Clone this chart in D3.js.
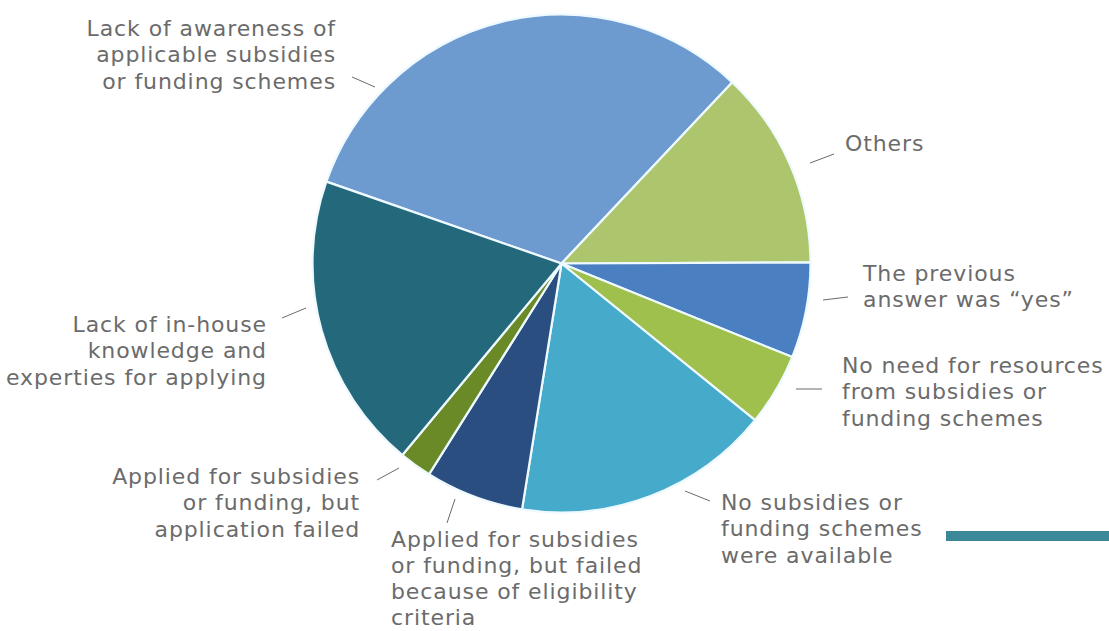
<!DOCTYPE html>
<html>
<head>
<meta charset="utf-8">
<script src="https://cdn.jsdelivr.net/npm/d3@7"></script>
<style>
  html, body { margin: 0; padding: 0; background: #ffffff; }
  svg { display: block; }
  .lbl { font-family: "DejaVu Sans", "Open Sans", sans-serif; font-size: 22px; letter-spacing: 0.9px; fill: #6b6b6b; }
</style>
</head>
<body>
<svg id="chart" width="1109" height="631"></svg>
<script>
// Reasons for not using subsidies or funding schemes (share of respondents, %)
const categories = [
  "Lack of awareness of applicable subsidies or funding schemes",
  "Others",
  "The previous answer was \u201cyes\u201d",
  "No need for resources from subsidies or funding schemes",
  "No subsidies or funding schemes were available",
  "Applied for subsidies or funding, but failed because of eligibility criteria",
  "Applied for subsidies or funding, but application failed",
  "Lack of in-house knowledge and experties for applying"
];
const values = [31.7, 12.9, 6.2, 4.7, 16.7, 6.4, 2.1, 19.3];
const labelLines = [
  ["Lack of awareness of", "applicable subsidies", "or funding schemes"],
  ["Others"],
  ["The previous", "answer was \u201cyes\u201d"],
  ["No need for resources", "from subsidies or", "funding schemes"],
  ["No subsidies or", "funding schemes", "were available"],
  ["Applied for subsidies", "or funding, but failed", "because of eligibility", "criteria"],
  ["Applied for subsidies", "or funding, but", "application failed"],
  ["Lack of in-house", "knowledge and", "experties for applying"]
];
const colors = ["#6e9bcf", "#adc66e", "#4a7fc2", "#9fc04c", "#46aaca", "#2a4e7f", "#6a8a28", "#24687b"];

// Label placement: anchor point, text alignment, first baseline, line step, leader line endpoints
const labelLayout = [
  { x: 336, y: 36,  step: 26.3, anchor: "end",   line: [[352, 77], [375, 87]] },
  { x: 845, y: 151, step: 26.3, anchor: "start", line: [[810, 163], [834, 154]] },
  { x: 863, y: 281, step: 26.3, anchor: "start", line: [[823, 300], [848, 297]] },
  { x: 842, y: 373, step: 26.3, anchor: "start", line: [[796, 389], [822, 389]] },
  { x: 721, y: 510, step: 26.3, anchor: "start", line: [[685, 491], [710, 501]] },
  { x: 391, y: 547, step: 26,   anchor: "start", line: [[455, 499], [447, 523]] },
  { x: 360, y: 484, step: 26.3, anchor: "end",   line: [[377, 480], [399, 468]] },
  { x: 267, y: 332, step: 26.3, anchor: "end",   line: [[282, 318], [306, 308]] }
];

const svg = d3.select("#chart");
const cx = 561.5, cy = 263.5, radius = 249;

const pie = d3.pie()
  .sort(null)
  .value(d => d)
  .startAngle(-70.8 * Math.PI / 180)
  .endAngle((360 - 70.8) * Math.PI / 180);

const arc = d3.arc().innerRadius(0).outerRadius(radius);

const g = svg.append("g").attr("transform", `translate(${cx},${cy})`);
g.selectAll("path.slice")
  .data(pie(values))
  .join("path")
  .attr("class", "slice")
  .attr("d", arc)
  .attr("fill", (d, i) => colors[i])
  .attr("stroke", "#eefaff")
  .attr("stroke-width", 2.2)
  .attr("stroke-linejoin", "round");

// Leader lines
svg.selectAll("line.leader")
  .data(labelLayout)
  .join("line")
  .attr("class", "leader")
  .attr("x1", d => d.line[0][0]).attr("y1", d => d.line[0][1])
  .attr("x2", d => d.line[1][0]).attr("y2", d => d.line[1][1])
  .attr("stroke", "#6b6b6b")
  .attr("stroke-width", 1);

// Category labels, one text element per line
labelLayout.forEach((p, i) => {
  labelLines[i].forEach((s, k) => {
    svg.append("text")
      .attr("class", "lbl")
      .attr("text-anchor", p.anchor)
      .attr("x", p.x)
      .attr("y", p.y + k * p.step)
      .text(s);
  });
});

// Accent bar
svg.append("rect")
  .attr("x", 946).attr("y", 531)
  .attr("width", 163).attr("height", 10)
  .attr("fill", "#3a8898");
</script>
</body>
</html>
